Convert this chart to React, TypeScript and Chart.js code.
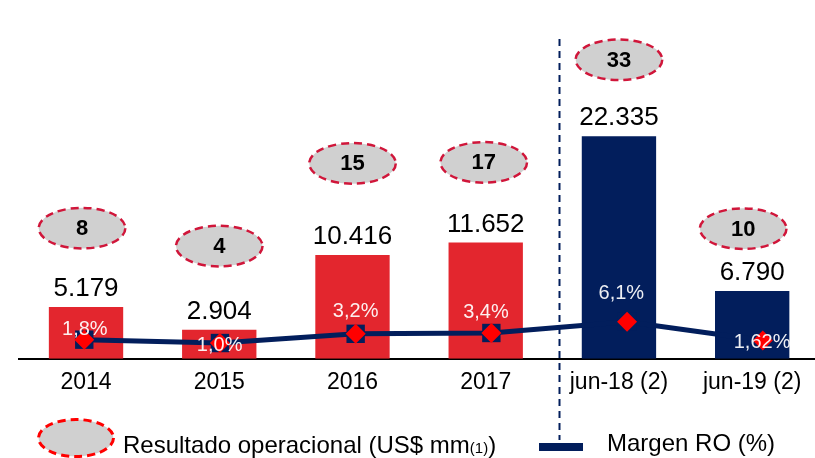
import React, { useEffect, useRef } from 'react';
import { Chart, registerables } from 'chart.js';

Chart.register(...registerables);

// ---- data ----
const categories = ['2014', '2015', '2016', '2017', 'jun-18 (2)', 'jun-19 (2)'];
const resultadoValues = [5179, 2904, 10416, 11652, 22335, 6790];
const resultadoOvals = [8, 4, 15, 17, 33, 10];
const margenValues = [1.8, 1.0, 3.2, 3.4, 6.1, 1.62];

// ---- annotation layout (not data) ----
const ovalLevels = [13100, 11300, 19600, 19700, 30000, 13050]; // y-axis units
const ovalDx = [-4, 0, 0, -2, 0, -9];
const marginLabelDx = [0.6, -0.3, 0, -5.4, -5.7, -0.7];
const marginLabelDy = [-10, 2.5, -22, -21, -28, 2];

const RED = '#E3262E';
const NAVY = '#021E5C';
const OVAL_FILL = '#D0D0D0';
const OVAL_STROKE = '#D0163A';
const FONT = '"Liberation Sans", Arial, sans-serif';
const barColors = [RED, RED, RED, RED, NAVY, NAVY];

const fmtThousands = (v: number) => String(v).replace(/\B(?=(\d{3})+(?!\d))/g, '.');
const fmtPct = (v: number) => {
  const two = Math.abs(Math.round(v * 10) - v * 10) > 1e-9;
  return v.toFixed(two ? 2 : 1).replace('.', ',') + '%';
};

function drawOval(ctx: CanvasRenderingContext2D, cx: number, cy: number, rx: number, ry: number, stroke: string, lw: number) {
  ctx.save();
  ctx.beginPath();
  ctx.ellipse(cx, cy, rx, ry, 0, 0, Math.PI * 2);
  ctx.fillStyle = OVAL_FILL;
  ctx.fill();
  ctx.setLineDash([8, 5]);
  ctx.lineWidth = lw;
  ctx.strokeStyle = stroke;
  ctx.stroke();
  ctx.restore();
}

const annotations = {
  id: 'annotations',
  afterDatasetsDraw(chart: any) {
    const ctx: CanvasRenderingContext2D = chart.ctx;
    const x2 = chart.scales.x2;
    const y = chart.scales.y;
    const barMeta = chart.getDatasetMeta(0);
    const lineMeta = chart.getDatasetMeta(1);

    // vertical dashed separator
    ctx.save();
    const sx = Math.round(x2.getPixelForValue(3.5)) + 0.5;
    ctx.beginPath();
    ctx.setLineDash([7, 5]);
    ctx.strokeStyle = NAVY;
    ctx.lineWidth = 2;
    ctx.moveTo(sx, 39);
    ctx.lineTo(sx, 440);
    ctx.stroke();
    ctx.restore();

    // bar values and ovals
    ctx.save();
    ctx.textAlign = 'center';
    resultadoValues.forEach((v, i) => {
      const bar = barMeta.data[i];
      ctx.fillStyle = '#000';
      ctx.font = `26px ${FONT}`;
      ctx.textBaseline = 'alphabetic';
      ctx.fillText(fmtThousands(v), bar.x, bar.y - 11);

      const cx = bar.x + ovalDx[i];
      const cy = y.getPixelForValue(ovalLevels[i]);
      drawOval(ctx, cx, cy, 43.3, 20.3, OVAL_STROKE, 2.5);
      ctx.fillStyle = '#000';
      ctx.font = `bold 22px ${FONT}`;
      ctx.textBaseline = 'middle';
      ctx.fillText(String(resultadoOvals[i]), cx, cy + 1);
    });

    // margin labels
    margenValues.forEach((v, i) => {
      const pt = lineMeta.data[i];
      ctx.fillStyle = 'rgba(255,255,255,0.93)';
      ctx.font = `20px ${FONT}`;
      ctx.textBaseline = 'middle';
      ctx.fillText(fmtPct(v), pt.x + marginLabelDx[i], pt.y + marginLabelDy[i]);
    });
    ctx.restore();
  },
  afterDraw(chart: any) {
    const ctx: CanvasRenderingContext2D = chart.ctx;
    ctx.save();
    // legend: oval
    drawOval(ctx, 76, 438, 37.5, 18.5, '#FF0000', 3);
    ctx.fillStyle = '#000';
    ctx.textAlign = 'left';
    ctx.textBaseline = 'alphabetic';
    ctx.font = `24px ${FONT}`;
    const t1 = 'Resultado operacional (US$ mm';
    ctx.fillText(t1, 123, 453);
    let xx = 123 + ctx.measureText(t1).width;
    ctx.font = `15px ${FONT}`;
    ctx.fillText('(1)', xx, 453);
    xx += ctx.measureText('(1)').width;
    ctx.font = `24px ${FONT}`;
    ctx.fillText(')', xx, 453);

    // legend: margin line
    ctx.fillStyle = NAVY;
    ctx.fillRect(539, 443, 44, 8);
    ctx.fillStyle = '#000';
    ctx.font = `24px ${FONT}`;
    ctx.fillText('Margen RO (%)', 607, 451);
    ctx.restore();
  },
};

export default function App() {
  const ref = useRef<HTMLCanvasElement>(null);

  useEffect(() => {
    if (!ref.current) return;
    const chart = new Chart(ref.current, {
      type: 'bar',
      data: {
        labels: categories,
        datasets: [
          {
            type: 'bar',
            label: 'Resultado operacional (US$ mm)',
            data: resultadoValues,
            backgroundColor: barColors,
            borderWidth: 0,
            grouped: false,
            barPercentage: 0.558,
            categoryPercentage: 1,
            xAxisID: 'x',
            yAxisID: 'y',
            order: 3,
          } as any,
          {
            type: 'line',
            label: 'Margen RO (%)',
            data: margenValues.map((v, i) => ({ x: i, y: v })),
            borderColor: NAVY,
            borderWidth: 5,
            backgroundColor: NAVY,
            pointStyle: 'rect',
            pointRadius: 13,
            pointBorderWidth: 0,
            tension: 0,
            clip: false,
            xAxisID: 'x2',
            yAxisID: 'y2',
            order: 2,
          } as any,
          {
            type: 'line',
            label: 'marker',
            data: margenValues.map((v, i) => ({ x: i, y: v })),
            showLine: false,
            backgroundColor: '#FF0000',
            pointStyle: 'rectRot',
            pointRadius: 10,
            pointBorderWidth: 0,
            clip: false,
            xAxisID: 'x2',
            yAxisID: 'y2',
            order: 1,
          } as any,
        ],
      },
      options: {
        responsive: false,
        animation: false,
        devicePixelRatio: 1,
        layout: { autoPadding: false, padding: { left: 19.4, right: 1.2, top: 0, bottom: 0 } },
        plugins: {
          legend: { display: false },
          tooltip: { enabled: false },
        },
        scales: {
          x: {
            type: 'category',
            grid: { display: false, drawTicks: false },
            border: { display: true, color: '#000', width: 2 },
            ticks: {
              color: '#000',
              padding: 10.5,
              font: { family: FONT, size: 23 },
              maxRotation: 0,
              autoSkip: false,
            },
            afterFit: (scale: any) => {
              scale.height = 99.3;
            },
          },
          x2: {
            type: 'linear',
            display: false,
            offset: false,
            min: -0.478,
            max: 5.413,
          },
          y: {
            display: false,
            min: 0,
            max: 36000,
          },
          y2: {
            display: false,
            min: -2.75,
            max: 83.06,
          },
        },
      } as any,
      plugins: [annotations],
    });
    return () => chart.destroy();
  }, []);

  return (
    <div style={{ position: 'fixed', left: 0, top: 0, width: 815, height: 458, overflow: 'hidden', background: '#fff' }}>
      <canvas ref={ref} width={820} height={458} style={{ width: 820, height: 458, display: 'block' }} />
    </div>
  );
}
